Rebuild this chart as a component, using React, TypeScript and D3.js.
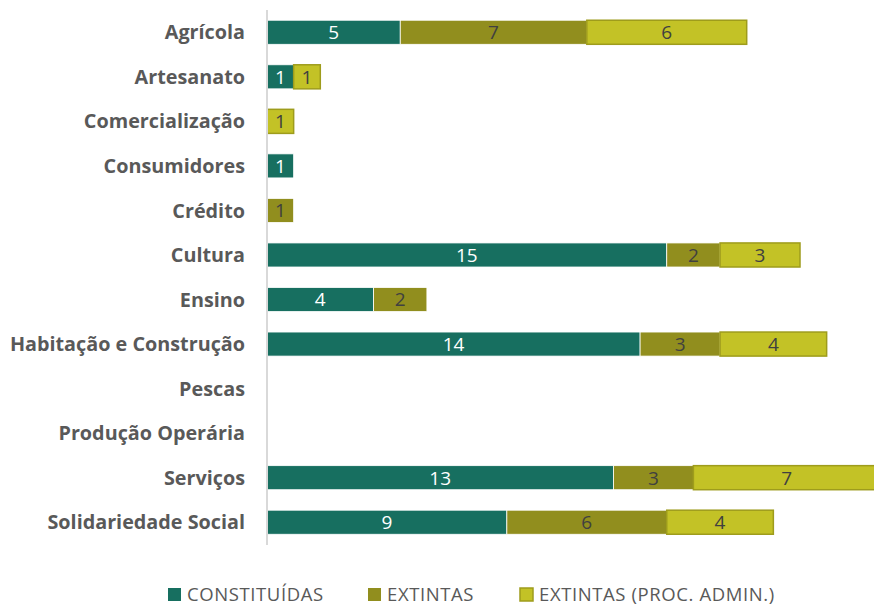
import * as d3 from "d3";

const categories = [
  "Agrícola",
  "Artesanato",
  "Comercialização",
  "Consumidores",
  "Crédito",
  "Cultura",
  "Ensino",
  "Habitação e Construção",
  "Pescas",
  "Produção Operária",
  "Serviços",
  "Solidariedade Social",
];

const constituidas = [5, 1, 0, 1, 0, 15, 4, 14, 0, 0, 13, 9];
const extintas = [7, 0, 0, 0, 1, 2, 2, 3, 0, 0, 3, 6];
const extintasProc = [6, 1, 1, 0, 0, 3, 0, 4, 0, 0, 7, 4];

const seriesNames = ["CONSTITUÍDAS", "EXTINTAS", "EXTINTAS (PROC. ADMIN.)"];
const colors = ["#176f60", "#918e1e", "#c3c226"];
const strokes = ["#ffffff", "#ffffff", "#9e9c1c"];
const labelColors = ["#ffffff", "#404040", "#404040"];

export default function App() {
  const width = 874;
  const height = 607;
  const x0 = 267;

  const x = d3.scaleLinear().domain([0, 25]).range([x0, x0 + 26.65 * 25]);
  const y = d3
    .scaleBand()
    .domain(categories)
    .range([10, 544.5])
    .paddingInner(0.46)
    .paddingOuter(0.23);

  const rows = categories.map((c, i) => {
    const vals = [constituidas[i], extintas[i], extintasProc[i]];
    let acc = 0;
    return vals.map((v, s) => {
      const start = acc;
      acc += v;
      return { c, s, v, start, end: acc };
    });
  });

  const legendX = [168, 368, 520];

  return (
    <svg
      width={width}
      height={height}
      style={{ position: "absolute", left: 0, top: 0 }}
      fontFamily="'Open Sans', sans-serif"
    >
      <rect width={width} height={height} fill="#fff" />
      {rows.map((segs) =>
        segs
          .filter((d) => d.v > 0)
          .map((d) => (
            <g key={d.c + d.s}>
              <rect
                x={x(d.start)}
                y={y(d.c)!}
                width={x(d.end) - x(d.start)}
                height={y.bandwidth()}
                fill={colors[d.s]}
                stroke={strokes[d.s]}
                strokeWidth={d.s === 2 ? 1.5 : 0.8}
              />
              <text
                x={(x(d.start) + x(d.end)) / 2}
                y={y(d.c)! + y.bandwidth() / 2}
                dy="0.36em"
                textAnchor="middle"
                fontSize={19}
                fill={labelColors[d.s]}
              >
                {d.v}
              </text>
            </g>
          ))
      )}
      <line x1={x0} x2={x0} y1={10} y2={545} stroke="#d9d9d9" strokeWidth={2} />
      {categories.map((c) => (
        <text
          key={c}
          x={245}
          y={y(c)! + y.bandwidth() / 2}
          dy="0.36em"
          textAnchor="end"
          fontSize={19.8}
          fontWeight="bold"
          fill="#595959"
        >
          {c}
        </text>
      ))}
      {seriesNames.map((n, i) => (
        <g key={n}>
          <rect
            x={legendX[i]}
            y={588}
            width={13}
            height={13}
            fill={colors[i]}
            stroke={strokes[i] === "#ffffff" ? "none" : strokes[i]}
            strokeWidth={1.5}
          />
          <text
            x={legendX[i] + 19}
            y={594}
            dy="0.36em"
            fontSize={18.5}
            letterSpacing={0.6}
            fill="#595959"
          >
            {n}
          </text>
        </g>
      ))}
    </svg>
  );
}
